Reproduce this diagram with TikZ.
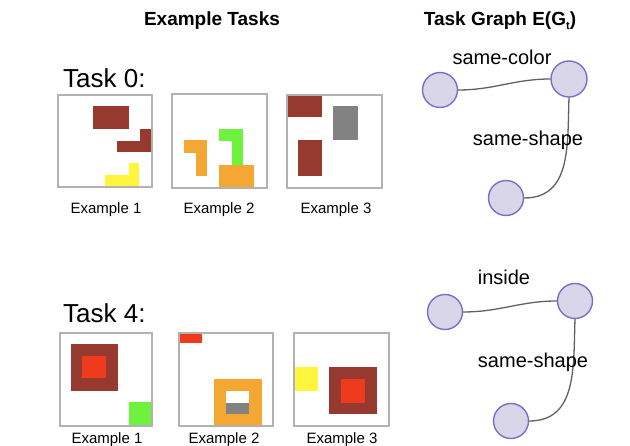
\documentclass[tikz,border=0pt]{standalone}
\usepackage{fontspec}
\setmainfont{Liberation Sans}
\definecolor{dred}{HTML}{963A30}
\definecolor{ared}{HTML}{EE3B1E}
\definecolor{ayel}{HTML}{FFF53C}
\definecolor{agrn}{HTML}{6EF23E}
\definecolor{aorg}{HTML}{F5A733}
\definecolor{agry}{HTML}{828282}
\definecolor{gfill}{HTML}{D9D6EA}
\definecolor{gline}{HTML}{7C6EC8}
\begin{document}
\begin{tikzpicture}[x=1pt,y=-1pt,
 gridbox/.style={draw=black!30,line width=1.2pt},
 gnode/.style={circle,draw=gline,fill=gfill,line width=1.4pt,minimum size=35pt,inner sep=0pt},
 gedge/.style={draw=black!62,line width=1.3pt},
 titletxt/.style={font=\fontsize{19}{22}\selectfont\bfseries,inner sep=0pt,anchor=base},
 tasklbl/.style={font=\fontsize{26}{30}\selectfont,inner sep=0pt,anchor=base west},
 exlbl/.style={font=\fontsize{15}{18}\selectfont,inner sep=0pt,anchor=base},
 elbl/.style={font=\fontsize{20}{24}\selectfont,inner sep=0pt,anchor=base}]
\useasboundingbox (0,0) rectangle (630,446);
\fill[white] (0,0) rectangle (630,446);

% titles
\node[titletxt] (t1) at (212,26) {Example Tasks};
\node[titletxt] (t2) at (500,26) {Task Graph E(G\raisebox{-4pt}{\fontsize{11}{11}\selectfont t})};

% ---------- Task 0 ----------
\node[tasklbl] (task0) at (63,88) {Task 0:};
% example 1
\fill[dred] (93,106) rectangle (129,129);
\fill[dred] (117,141) rectangle (152,152);
\fill[dred] (140,129) rectangle (152,141);
\fill[ayel] (105,175) rectangle (139,187);
\fill[ayel] (129,163) rectangle (139,175);
\draw[gridbox] (58,95) rectangle (152,187);
% example 2
\fill[aorg] (184,140) rectangle (207,153);
\fill[aorg] (196,153) rectangle (207,176);
\fill[agrn] (219,129) rectangle (243,141);
\fill[agrn] (232,141) rectangle (243,165);
\fill[aorg] (219,165) rectangle (254,188);
\draw[gridbox] (172,94) rectangle (267,188);
% example 3
\fill[dred] (287,95) rectangle (322,117);
\fill[agry] (333,106) rectangle (358,140);
\fill[dred] (298,140) rectangle (322,176);
\draw[gridbox] (287,95) rectangle (382,188);
\node[exlbl] (e01) at (106,214) {Example 1};
\node[exlbl] (e02) at (219,214) {Example 2};
\node[exlbl] (e03) at (336,214) {Example 3};

% ---------- Task 4 ----------
\node[tasklbl] (task4) at (63,323) {Task 4:};
% example 1
\fill[dred] (71,344) rectangle (118,391);
\fill[ared] (82,356) rectangle (106,378);
\fill[agrn] (129,402) rectangle (152,426);
\draw[gridbox] (60,333) rectangle (152,426);
% example 2
\fill[ared] (179,333) rectangle (202,343);
\fill[aorg] (214,379) rectangle (262,426);
\fill[white] (226,391) rectangle (249,403);
\fill[agry] (226,403) rectangle (249,414);
\draw[gridbox] (179,333) rectangle (273,426);
% example 3
\fill[ayel] (294,367) rectangle (318,391);
\fill[dred] (329,367) rectangle (377,414);
\fill[ared] (341,379) rectangle (365,403);
\draw[gridbox] (294,333) rectangle (389,426);
\node[exlbl] (e41) at (107,444) {Example 1};
\node[exlbl] (e42) at (224,444) {Example 2};
\node[exlbl] (e43) at (342,444) {Example 3};

% ---------- Graph 0 ----------
\node[gnode] (a0) at (440,90) {};
\node[gnode,minimum size=36pt] (b0) at (569,79) {};
\node[gnode] (c0) at (506,198) {};
\draw[gedge] (a0.east) to[out=0,in=180] (b0.west);
\draw[gedge] (b0.south) to[out=-92,in=0,looseness=1.1] (c0.east);
\node[elbl] (l01) at (502,65) {same-color};
\node[elbl] (l02) at (528,146) {same-shape};

% ---------- Graph 4 ----------
\node[gnode] (a4) at (445,312) {};
\node[gnode] (b4) at (575,301) {};
\node[gnode] (c4) at (511,421) {};
\draw[gedge] (a4.east) to[out=0,in=180] (b4.west);
\draw[gedge] (b4.south) to[out=-92,in=0,looseness=1.1] (c4.east);
\node[elbl] (l41) at (504,285) {inside};
\node[elbl] (l42) at (533,368) {same-shape};
\end{tikzpicture}
\end{document}
